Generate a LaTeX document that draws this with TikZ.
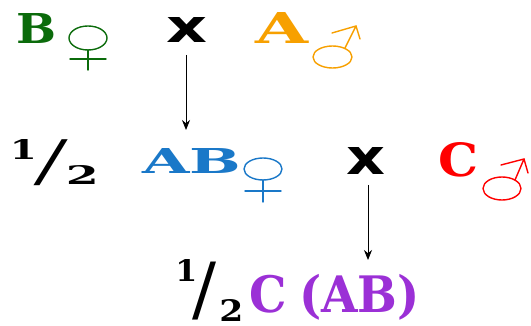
\documentclass[tikz,border=0pt]{standalone}
\usepackage{fontspec}
\usepackage{graphicx}
\setmainfont{DejaVu Serif}
\newfontfamily\sansbold{DejaVu Sans}
\usetikzlibrary{arrows.meta}
\definecolor{gB}{HTML}{0B6B0B}
\definecolor{oA}{HTML}{F7A000}
\definecolor{bAB}{HTML}{1A78C8}
\definecolor{rC}{HTML}{FF0000}
\definecolor{pC}{HTML}{9B30D6}
\tikzset{
  glyph/.style={inner sep=0pt, outer sep=0pt, anchor=center, font=\bfseries},
  sym/.style={line width=1.4pt, line cap=round},
  conn/.style={-{Stealth[length=10pt,width=8pt]}, line width=0.9pt}
}
\begin{document}
\begin{tikzpicture}[x=1pt,y=-1pt]
\useasboundingbox (0,0) rectangle (531,326);
% first row
\node[glyph, text=gB] (B) at (36.5,28) {\resizebox{40pt}{30pt}{B}};
\draw[sym, gB] (88,38) ellipse [x radius=19pt, y radius=12pt];
\draw[sym, gB] (88,50) -- (88,70) (70,59) -- (106,59);
\node[glyph] (x1) at (187.5,30.5) {\resizebox{41pt}{25pt}{\sansbold\bfseries x}};
\node[glyph, text=oA] (A) at (282,27.5) {\resizebox{53pt}{31pt}{A}};
\draw[sym, oA] (332.5,57) ellipse [x radius=19.5pt, y radius=11pt];
\draw[sym, oA] (345,48) -- (356,26) (332,33) -- (356,26) -- (360,39);
\coordinate (a1s) at (186,55);
\coordinate (a1e) at (186,130);
\draw[conn] (a1s) -- (a1e);
% second row
\node[glyph] (h1) at (23.5,150) {\resizebox{27pt}{20pt}{1}};
\node[glyph, xslant=0.3, transform shape] (s1) at (51,163) {\resizebox*{!}{46pt}{/}};
\node[glyph] (t1) at (82.5,175.5) {\resizebox{33pt}{19pt}{2}};
\node[glyph, text=bAB] (AB) at (191.5,160.5) {\resizebox{99pt}{25pt}{AB}};
\draw[sym, bAB] (263,169) ellipse [x radius=19pt, y radius=11pt];
\draw[sym, bAB] (263,180) -- (263,202) (245,191) -- (281,191);
\node[glyph] (x2) at (366.5,161.5) {\resizebox{39pt}{27pt}{\sansbold\bfseries x}};
\node[glyph, text=rC] (C) at (458.5,160) {\resizebox{40pt}{34pt}{C}};
\draw[sym, rC] (502,188.5) ellipse [x radius=19pt, y radius=11.5pt];
\draw[sym, rC] (515,180) -- (524,159) (501,165) -- (524,159) -- (528,173);
\coordinate (a2s) at (368,185);
\coordinate (a2e) at (368,260);
\draw[conn] (a2s) -- (a2e);
% third row
\node[glyph] (h2) at (186.5,271) {\resizebox{22pt}{22pt}{1}};
\node[glyph] (s2) at (204.5,291) {\resizebox*{24pt}{58pt}{\mdseries /}};
\node[glyph] (t2) at (231.5,310.5) {\resizebox{24pt}{22pt}{2}};
\node[glyph, text=pC] (res) at (335,297) {\resizebox*{170pt}{46pt}{C\hspace{0.25em}(AB)}};
\end{tikzpicture}
\end{document}
